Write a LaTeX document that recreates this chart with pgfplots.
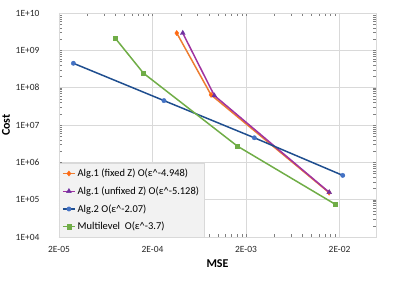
\documentclass[border=0pt]{standalone}
\usepackage{pgfplots}
\pgfplotsset{compat=1.18}
\usepackage{fontspec}
\setmainfont{Carlito}
\definecolor{cOrange}{HTML}{ED7D31}
\definecolor{cOrangeM}{HTML}{FF6A13}
\definecolor{cPurple}{HTML}{A033A0}
\definecolor{cPurpleM}{HTML}{7030A0}
\definecolor{cBlue}{HTML}{1F4E8F}
\definecolor{cBlueM}{HTML}{4472C4}
\definecolor{cGreen}{HTML}{70AD47}
\definecolor{gridc}{HTML}{D9D9D9}
\definecolor{legfill}{HTML}{F2F2F2}
\begin{document}
\begin{tikzpicture}
\begin{axis}[
  at={(0,0)}, anchor=south west,
  scale only axis, width=317bp, height=224bp,
  xmode=log, ymode=log,
  xmin=2e-5, xmax=4.9e-2, ymin=1e4, ymax=1e10,
  xtick={2e-5,2e-4,2e-3,2e-2},
  xticklabels={2E-05,2E-04,2E-03,2E-02},
  ytick={1e4,1e5,1e6,1e7,1e8,1e9,1e10},
  yticklabels={1E+04,1E+05,1E+06,1E+07,1E+08,1E+09,1E+10},
  major tick length=0pt,
  grid=major,
  major grid style={gridc, line width=0.6pt},
  axis line style={gridc, line width=0.6pt},
  tick label style={font=\fontsize{9.5}{10}\selectfont, text=black!85},
  xticklabel style={yshift=-6bp},
  yticklabel style={xshift=-16bp},
  xlabel={\textbf{MSE}}, ylabel={\textbf{Cost}},
  label style={font=\fontsize{12}{14}\selectfont},
  xlabel style={yshift=0bp},
  ylabel style={yshift=-1bp},
  legend cell align=left,
  legend style={at={(0,0)}, anchor=south west, fill=legfill, draw=gridc,
    font=\fontsize{10.5}{11.5}\selectfont, row sep=4.6bp, inner xsep=3bp, inner ysep=3.5bp},
  legend image code/.code={\draw[mark repeat=2,mark phase=2] plot coordinates {(0bp,0bp) (6bp,0bp) (12bp,0bp)};},
]
\addplot[cOrange, line width=1.5pt, mark=diamond*, mark size=2.6pt, mark options={fill=cOrangeM, draw=cOrangeM, line width=0.4pt}]
  coordinates {(3.63e-4,2.9e9) (8.45e-4,6.4e7) (1.545e-2,1.54e5)};
\addlegendentry{Alg.1 (fixed Z) O(ε\^{}-4.948)}
\addplot[cPurple, line width=1.5pt, mark=triangle*, mark size=2.8pt, mark options={fill=cPurpleM, draw=cPurpleM, line width=0.4pt}]
  coordinates {(4.21e-4,2.9e9) (9.16e-4,6.15e7) (1.55e-2,1.57e5)};
\addlegendentry{Alg.1 (unfixed Z) O(ε\^{}-5.128)}
\addplot[cBlue, line width=1.5pt, mark=*, mark size=2.2pt, mark options={fill=cBlueM, draw=cBlueM, line width=0.4pt}]
  coordinates {(2.85e-5,4.5e8) (2.65e-4,4.5e7) (2.45e-3,4.55e6) (2.16e-2,4.47e5)};
\addlegendentry{Alg.2 O(ε\^{}-2.07)}
\addplot[cGreen, line width=1.5pt, mark=square*, mark size=2.1pt, mark options={fill=cGreen, draw=cGreen, line width=0.4pt}]
  coordinates {(7.95e-5,2.15e9) (1.6e-4,2.44e8) (1.61e-3,2.73e6) (1.8e-2,7.5e4)};
\addlegendentry{Multilevel\ \ O(ε\^{}-3.7)}
\end{axis}
\pgfresetboundingbox
\path[use as bounding box] (-59bp,-51bp) rectangle (352bp,237bp);
\end{tikzpicture}
\end{document}
